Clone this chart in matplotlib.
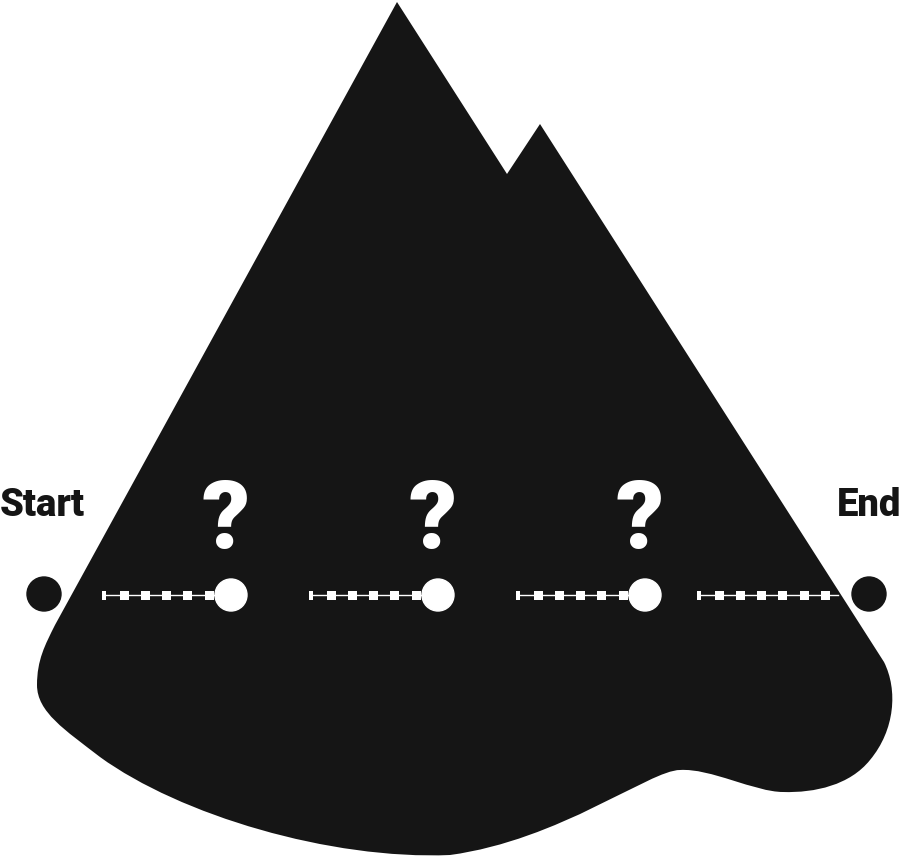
import matplotlib
matplotlib.use("Agg")
import matplotlib.pyplot as plt
import numpy as np
from matplotlib.path import Path
from matplotlib.patches import PathPatch, Circle, Rectangle

ink = "#151515"
plt.rcParams["font.family"] = ["Roboto", "DejaVu Sans"]

# journey along the path
path_y = 595
start_x, end_x = 44, 869
stops = [231, 438, 645]
seg_starts = [103, 310, 517, 698]
seg_ends = [231, 438, 645, 838]
labels = ["Start", "End"]

fig = plt.figure(figsize=(9, 8.59), dpi=100)
ax = fig.add_axes([0, 0, 1, 1])
ax.set_xlim(0, 900)
ax.set_ylim(859, 0)
ax.axis("off")

# mountain + rounded base
verts = [
    (55, 625), (397, 2), (507, 174), (540, 124), (884, 662),
    (898, 690), (895, 730), (870, 760),
    (850, 785), (815, 793), (783, 792),
    (755, 792), (710, 768), (680, 770),
    (650, 770), (560, 840), (450, 855),
    (330, 860), (180, 815), (100, 757),
    (65, 730), (37, 712), (37, 685),
    (37, 660), (45, 645), (55, 625),
]
codes = [Path.MOVETO] + [Path.LINETO] * 4 + [Path.CURVE4] * 21
ax.add_patch(PathPatch(Path(verts, codes), facecolor=ink, edgecolor="none"))

# dashed route segments
for s, e in zip(seg_starts, seg_ends):
    ax.plot([s, e], [path_y, path_y], color="white", lw=1.0, zorder=3)
    ax.add_patch(Rectangle((s - 1.5, path_y - 4.5), 4, 9, color="white", lw=0, zorder=4))
    for x in np.arange(s + 21, e - 4, 21.3):
        ax.add_patch(Rectangle((x - 4.5, path_y - 4.5), 9, 9, color="white", lw=0, zorder=4))

for x in stops:
    ax.add_patch(Circle((x, path_y), 16, color="white", zorder=5))
    ax.text(x - 5, 522, "?", color="white", fontsize=68, fontweight="black",
            ha="center", va="center", zorder=5)

for x in (start_x, end_x):
    ax.add_patch(Circle((x, path_y - 1), 17, color=ink, zorder=5))

ax.text(0, 505, labels[0], color=ink, fontsize=27.5, fontweight="black",
        ha="left", va="center")
ax.text(901, 505, labels[1], color=ink, fontsize=27.5, fontweight="black",
        ha="right", va="center")

fig.savefig("out.png", dpi=100, facecolor="white")
